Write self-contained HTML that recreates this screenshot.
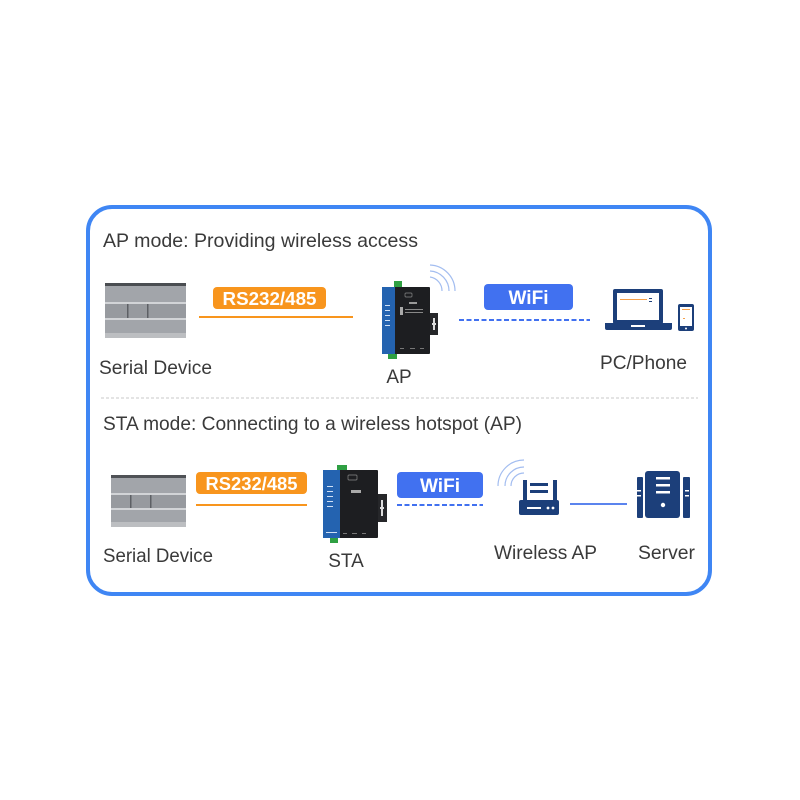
<!DOCTYPE html>
<html>
<head>
<meta charset="utf-8">
<style>
html,body{margin:0;padding:0;background:#fff;}
svg{display:block;}
text{font-family:"Liberation Sans",sans-serif;}
</style>
</head>
<body>
<svg width="800" height="800" viewBox="0 0 800 800" xmlns="http://www.w3.org/2000/svg">
  <rect width="800" height="800" fill="#fff"/>
  <!-- outer frame -->
  <rect x="88" y="207" width="622" height="387" rx="24" ry="24" fill="#fff" stroke="#3f86f4" stroke-width="4"/>

  <!-- titles -->
  <text x="103" y="247" font-size="19.5" fill="#3a3a3a" textLength="315" lengthAdjust="spacingAndGlyphs">AP mode: Providing wireless access</text>
  <text x="103" y="430" font-size="19.5" fill="#3a3a3a" textLength="419" lengthAdjust="spacingAndGlyphs">STA mode: Connecting to a wireless hotspot (AP)</text>

  <!-- divider -->
  <line x1="101" y1="398" x2="698" y2="398" stroke="#c8c8c8" stroke-width="1" stroke-dasharray="3 2"/>

  <!-- ============ ROW 1 ============ -->
  <!-- serial device 1 -->
  <g>
    <rect x="105" y="283" width="81" height="55" fill="#989ba0"/>
    <rect x="105" y="283" width="81" height="3" fill="#4a4d51"/>
    <rect x="105" y="286" width="81" height="16" fill="#a2a5aa"/>
    <rect x="105" y="302" width="81" height="2" fill="#d2d4d7"/>
    <rect x="105" y="304" width="81" height="14" fill="#979a9f"/>
    <rect x="127" y="304" width="1.5" height="14" fill="#5d6065"/>
    <rect x="147" y="304" width="1.5" height="14" fill="#5d6065"/>
    <rect x="105" y="318" width="81" height="2" fill="#d2d4d7"/>
    <rect x="105" y="320" width="81" height="18" fill="#a2a5aa"/>
    <rect x="105" y="333" width="81" height="5" fill="#bcbec1"/>
  </g>
  <text x="99" y="374" font-size="19" fill="#3a3a3a" textLength="113" lengthAdjust="spacingAndGlyphs">Serial Device</text>

  <!-- RS232 pill 1 -->
  <rect x="213" y="287" width="113" height="22" rx="4" fill="#f8951d"/>
  <text x="269.5" y="305" font-size="18.5" font-weight="bold" fill="#fff" text-anchor="middle" textLength="94" lengthAdjust="spacingAndGlyphs">RS232/485</text>
  <line x1="199" y1="317" x2="353" y2="317" stroke="#f8951d" stroke-width="2"/>

  <!-- AP device -->
  <g>
    <rect x="394" y="281" width="8" height="7" fill="#2fa043"/>
    <rect x="388" y="353" width="9" height="6" fill="#2fa043"/>
    <rect x="430" y="313" width="8" height="22" fill="#26272a"/>
    <rect x="433" y="318" width="2" height="12" fill="#ddd"/>
    <rect x="432" y="323" width="4" height="2" fill="#ddd"/>
    <rect x="382" y="287" width="48" height="67" rx="1" fill="#1d1e21"/>
    <rect x="382" y="287" width="13" height="67" fill="#2463b0"/>
    <rect x="385" y="305" width="5" height="1" fill="#cfe0f5"/>
    <rect x="385" y="310" width="5" height="1" fill="#cfe0f5"/>
    <rect x="385" y="315" width="5" height="1" fill="#cfe0f5"/>
    <rect x="385" y="320" width="5" height="1" fill="#cfe0f5"/>
    <rect x="385" y="325" width="5" height="1" fill="#cfe0f5"/>
    <rect x="405" y="293" width="7" height="4" rx="1" fill="none" stroke="#888" stroke-width="0.7"/>
    <rect x="409" y="302" width="8" height="2" fill="#999"/>
    <rect x="400" y="307" width="3" height="8" fill="#aaa"/>
    <rect x="405" y="309" width="18" height="1" fill="#888"/>
    <rect x="405" y="312" width="18" height="1" fill="#888"/>
    <rect x="400" y="348" width="4" height="1" fill="#777"/>
    <rect x="410" y="348" width="5" height="1" fill="#777"/>
    <rect x="420" y="348" width="4" height="1" fill="#777"/>
  </g>
  <!-- AP waves -->
  <g fill="none" stroke="#a3bdf0" stroke-width="1.2">
    <path d="M430 277 A14 14 0 0 1 442 291"/>
    <path d="M430 271 A20 20 0 0 1 449 291"/>
    <path d="M430 265 A26 26 0 0 1 455 291"/>
  </g>
  <text x="399" y="383" font-size="19" fill="#3a3a3a" text-anchor="middle">AP</text>

  <!-- WiFi pill 1 -->
  <rect x="484" y="284" width="89" height="26" rx="4" fill="#4171f0"/>
  <text x="528.5" y="304" font-size="19" font-weight="bold" fill="#fff" text-anchor="middle" textLength="40" lengthAdjust="spacingAndGlyphs">WiFi</text>
  <line x1="459" y1="320" x2="590" y2="320" stroke="#4171f0" stroke-width="2" stroke-dasharray="5 2.5"/>

  <!-- laptop -->
  <g>
    <rect x="613" y="289" width="50" height="35" rx="2" fill="#1c3f7a"/>
    <rect x="617" y="293" width="42" height="27" fill="#fff"/>
    <rect x="620" y="299" width="27" height="1" fill="#f5a04a"/>
    <rect x="649" y="298" width="3" height="1" fill="#1c3f7a"/>
    <rect x="649" y="301" width="3" height="1" fill="#1c3f7a"/>
    <path d="M605 323 H672 V328 Q672 330 670 330 H607 Q605 330 605 328 Z" fill="#1c3f7a"/>
    <rect x="631" y="325" width="14" height="2" fill="#fff"/>
  </g>
  <!-- phone -->
  <g>
    <rect x="678" y="304" width="16" height="27" rx="2" fill="#1c3f7a"/>
    <rect x="680" y="307" width="12" height="19" fill="#fff"/>
    <rect x="682" y="309" width="8" height="1" fill="#f5a04a"/>
    <rect x="683" y="318" width="2" height="1" fill="#f5a04a"/>
    <circle cx="686" cy="328.5" r="1" fill="#fff"/>
  </g>
  <text x="600" y="369" font-size="19" fill="#3a3a3a" textLength="87" lengthAdjust="spacingAndGlyphs">PC/Phone</text>

  <!-- ============ ROW 2 ============ -->
  <!-- serial device 2 -->
  <g>
    <rect x="111" y="475" width="75" height="52" fill="#989ba0"/>
    <rect x="111" y="475" width="75" height="3" fill="#4f5256"/>
    <rect x="111" y="478" width="75" height="15" fill="#a2a5aa"/>
    <rect x="111" y="493" width="75" height="2" fill="#d2d4d7"/>
    <rect x="111" y="495" width="75" height="13" fill="#979a9f"/>
    <rect x="130" y="495" width="1.5" height="13" fill="#5d6065"/>
    <rect x="150" y="495" width="1.5" height="13" fill="#5d6065"/>
    <rect x="111" y="508" width="75" height="2" fill="#d2d4d7"/>
    <rect x="111" y="510" width="75" height="17" fill="#a2a5aa"/>
    <rect x="111" y="522" width="75" height="5" fill="#bcbec1"/>
  </g>
  <text x="103" y="562" font-size="19" fill="#3a3a3a" textLength="110" lengthAdjust="spacingAndGlyphs">Serial Device</text>

  <!-- RS232 pill 2 -->
  <rect x="196" y="472" width="111" height="22" rx="4" fill="#f8951d"/>
  <text x="251.5" y="490" font-size="18.5" font-weight="bold" fill="#fff" text-anchor="middle" textLength="92" lengthAdjust="spacingAndGlyphs">RS232/485</text>
  <line x1="196" y1="505" x2="307" y2="505" stroke="#f8951d" stroke-width="2"/>

  <!-- STA device -->
  <g>
    <rect x="337" y="465" width="10" height="6" fill="#2fa043"/>
    <rect x="330" y="537" width="8" height="6" fill="#2fa043"/>
    <rect x="378" y="494" width="9" height="28" fill="#26272a"/>
    <rect x="381" y="500" width="2" height="16" fill="#ddd"/>
    <rect x="380" y="507" width="4" height="2" fill="#ddd"/>
    <rect x="323" y="470" width="55" height="68" rx="1" fill="#1d1e21"/>
    <rect x="323" y="470" width="17" height="68" fill="#2463b0"/>
    <rect x="327" y="486" width="6" height="1" fill="#cfe0f5"/>
    <rect x="327" y="491" width="6" height="1" fill="#cfe0f5"/>
    <rect x="327" y="496" width="6" height="1" fill="#cfe0f5"/>
    <rect x="327" y="501" width="6" height="1" fill="#cfe0f5"/>
    <rect x="327" y="506" width="6" height="1" fill="#cfe0f5"/>
    <rect x="326" y="532" width="11" height="1" fill="#cfe0f5"/>
    <rect x="348" y="475" width="9" height="5" rx="1" fill="none" stroke="#888" stroke-width="0.7"/>
    <rect x="351" y="490" width="10" height="3" fill="#aaa"/>
    <rect x="343" y="533" width="4" height="1" fill="#777"/>
    <rect x="352" y="533" width="5" height="1" fill="#777"/>
    <rect x="362" y="533" width="4" height="1" fill="#777"/>
  </g>
  <text x="346" y="567" font-size="19" fill="#3a3a3a" text-anchor="middle">STA</text>

  <!-- WiFi pill 2 -->
  <rect x="397" y="472" width="86" height="26" rx="4" fill="#4171f0"/>
  <text x="440" y="492" font-size="19" font-weight="bold" fill="#fff" text-anchor="middle" textLength="40" lengthAdjust="spacingAndGlyphs">WiFi</text>
  <line x1="397" y1="505" x2="483" y2="505" stroke="#4171f0" stroke-width="2" stroke-dasharray="5 2.5"/>

  <!-- router waves -->
  <g fill="none" stroke="#a3bdf0" stroke-width="1.2">
    <path d="M511 486 A13 13 0 0 1 524 473"/>
    <path d="M505 486 A19 19 0 0 1 524 467"/>
    <path d="M498 486 A26 26 0 0 1 524 460"/>
  </g>
  <!-- router -->
  <g fill="#1c3f7a">
    <rect x="523" y="480" width="4" height="22"/>
    <rect x="553" y="480" width="4" height="22"/>
    <rect x="530" y="483" width="18" height="3"/>
    <rect x="530" y="490" width="18" height="3"/>
    <rect x="519" y="500" width="40" height="15" rx="2"/>
  </g>
  <rect x="527" y="507" width="14" height="2" fill="#fff"/>
  <circle cx="548" cy="508" r="1.4" fill="#fff"/>
  <circle cx="553" cy="508" r="1.4" fill="#fff"/>
  <text x="494" y="559" font-size="19" fill="#3a3a3a" textLength="103" lengthAdjust="spacingAndGlyphs">Wireless AP</text>

  <line x1="570" y1="504" x2="627" y2="504" stroke="#5b84ee" stroke-width="2"/>

  <!-- server -->
  <g fill="#1c3f7a">
    <rect x="637" y="477" width="6" height="41" rx="1"/>
    <rect x="683" y="477" width="7" height="41" rx="1"/>
    <rect x="645" y="471" width="35" height="47" rx="3"/>
  </g>
  <g fill="#fff">
    <rect x="656" y="477" width="14" height="2.5"/>
    <rect x="656" y="484" width="14" height="2.5"/>
    <rect x="656" y="491" width="14" height="2.5"/>
    <circle cx="663" cy="505" r="2.2"/>
    <rect x="637" y="490" width="4" height="1.5"/>
    <rect x="637" y="495" width="4" height="1.5"/>
    <rect x="685" y="490" width="4" height="1.5"/>
    <rect x="685" y="495" width="4" height="1.5"/>
  </g>
  <text x="638" y="559" font-size="19" fill="#3a3a3a" textLength="57" lengthAdjust="spacingAndGlyphs">Server</text>
</svg>
</body>
</html>
